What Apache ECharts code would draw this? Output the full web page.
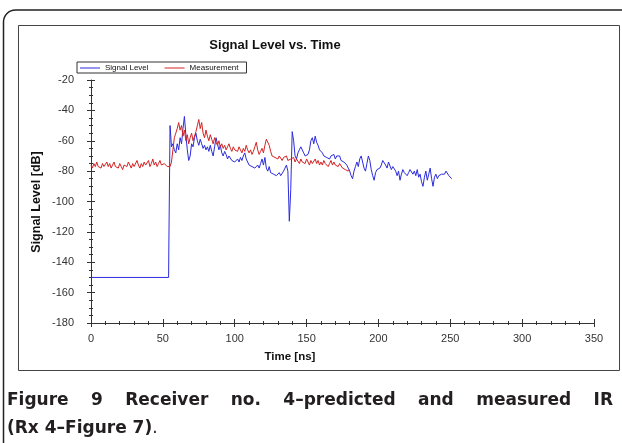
<!DOCTYPE html>
<html>
<head>
<meta charset="utf-8">
<script src="https://cdn.jsdelivr.net/npm/echarts@6/dist/echarts.min.js"></script>
<style>html,body{margin:0;padding:0;background:#fff;}#c{width:622px;height:443px;}</style>
</head>
<body>
<div id="c"></div>
<script>
// ---- data ----
const chartTitle = 'Signal Level vs. Time';
const seriesNames = ['Signal Level', 'Measurement'];
const xTickValues = [0, 50, 100, 150, 200, 250, 300, 350];
const yTickValues = [-180, -160, -140, -120, -100, -80, -60, -40, -20];
const xAxisTitle = 'Time [ns]';
const yAxisTitle = 'Signal Level [dB]';
const captionLine1 = [['Figure', 'bold'], ['9', 'bold'], ['Receiver', 'bold'], ['no.', 'bold'], ['4\u2013predicted', 'bold'], ['and', 'bold'], ['measured', 'bold'], ['IR', 'bold']];
const captionLine2 = [['(Rx 4\u2013Figure 7)', 'bold'], ['.', 'normal']];

// Measurement: one sample per ns starting at t = 0
const measurementStart = 0;
const measurementLevels = [
-76,-78,-75,-77,-74,-77,-76,-78,-75,-77,
-76,-74,-77,-75,-78,-76,-74,-77,-76,-78,
-75,-77,-79,-76,-75,-77,-74,-76,-78,-75,
-77,-76,-73,-76,-78,-75,-77,-74,-76,-75,
-73,-77,-75,-72,-76,-74,-77,-75,-73,-76,
-77,-75,-76,-77,-76,-77,-74,-66,-58,-55,
-52,-48,-53,-50,-57,-53,-60,-56,-62,-58,
-55,-60,-57,-54,-50,-46,-52,-48,-55,-58,
-53,-57,-60,-56,-59,-62,-58,-61,-63,-60,
-64,-62,-65,-63,-66,-64,-62,-65,-67,-64,
-66,-65,-67,-64,-66,-68,-65,-67,-63,-66,
-68,-66,-69,-67,-64,-61,-66,-69,-67,-65,
-68,-63,-59,-58,-63,-67,-70,-69,-71,-70,
-72,-70,-71,-73,-71,-72,-70,-73,-74,-72,
-73,-71,-74,-72,-73,-75,-72,-74,-73,-75,
-72,-74,-76,-73,-75,-74,-72,-75,-73,-76,
-74,-76,-73,-75,-74,-77,-75,-73,-76,-74,
-76,-75,-77,-75,-76,-78,-77,-79,-78,-80,
-79
];

// Signal level (prediction): leading step, then one sample per ns from t = 55
const signalLeadTimes = [0, 54, 54.2, 54.6];
const signalLeadLevels = [-150, -150, -126, -126];
const signalStart = 55;
const signalLevels = [
-50,-64,-62,-66,-68,-62,-66,-58,-62,-52,
-44,-56,-66,-73,-70,-62,-64,-58,-55,-60,
-63,-59,-62,-65,-63,-66,-64,-67,-63,-67,
-70,-64,-58,-62,-66,-63,-68,-70,-67,-69,
-72,-70,-71,-73,-72,-74,-75,-72,-74,-71,
-73,-70,-68,-72,-74,-76,-75,-77,-76,-78,
-77,-76,-78,-75,-72,-76,-71,-78,-80,-77,
-81,-80,-82,-81,-83,-82,-81,-83,-82,-80,
-78,-76,-80,-113,-92,-54,-60,-70,-72,-68,
-66,-64,-65,-68,-70,-71,-69,-66,-60,-58,
-62,-57,-61,-63,-66,-65,-68,-70,-69,-71,
-70,-72,-70,-71,-69,-72,-70,-71,-70,-73,
-72,-74,-73,-76,-78,-80,-83,-85,-80,-77,
-74,-77,-72,-70,-74,-78,-80,-75,-70,-73,
-79,-83,-86,-81,-79,-80,-78,-76,-73,-72,
-76,-78,-74,-75,-79,-77,-76,-80,-83,-80,
-86,-82,-79,-81,-80,-83,-81,-79,-78,-82,
-80,-83,-79,-84,-82,-87,-90,-84,-80,-86,
-82,-78,-85,-90,-84,-82,-85,-83,-84,-82,
-81,-82,-80,-81,-83,-84,-85
];

// ---- build series data ----
const signalData = signalLeadTimes.map((t, i) => [t, signalLeadLevels[i]])
  .concat(signalLevels.map((v, i) => [signalStart + i, v]));
const measurementData = measurementLevels.map((v, i) => [measurementStart + i, v]);

const chart = echarts.init(document.getElementById('c'), null, {renderer: 'canvas'});

// caption justification helper (measures words, spreads them between left and right)
const mctx = document.createElement('canvas').getContext('2d');
const capFamily = '"DejaVu Sans", sans-serif';
const capSize = 17;
function capFont(w) { return w + ' ' + capSize + 'px ' + capFamily; }
function lineElems(words, y, left, right, justify) {
  const widths = words.map(w => { mctx.font = capFont(w[1]); return mctx.measureText(w[0]).width; });
  const total = widths.reduce((a, b) => a + b, 0);
  const gap = justify ? (right - left - total) / (words.length - 1) : 0;
  let x = left;
  return words.map((w, i) => {
    const el = {type: 'text', x: x, y: y, style: {text: w[0], font: capFont(w[1]), fill: '#231f20', align: 'left', verticalAlign: 'middle'}};
    x += widths[i] + gap;
    return el;
  });
}

const axisColor = '#333';
const labelStyle = {color: '#333', fontSize: 11, fontFamily: 'Liberation Sans, Arial, sans-serif'};

function xAx(main) {
  return {
    type: 'value', min: xTickValues[0], max: xTickValues[xTickValues.length - 1],
    interval: xTickValues[1] - xTickValues[0], position: 'bottom',
    axisLine: {show: main, onZero: false, lineStyle: {color: axisColor, width: 1}},
    axisTick: {show: true, inside: !main, length: 4, lineStyle: {color: axisColor}},
    minorTick: {show: true, splitNumber: 5, length: 2, lineStyle: {color: axisColor}},
    axisLabel: {show: main, margin: 10, ...labelStyle},
    splitLine: {show: false}
  };
}
function yAx(main) {
  return {
    type: 'value', min: yTickValues[0], max: yTickValues[yTickValues.length - 1],
    interval: yTickValues[1] - yTickValues[0], position: 'left',
    axisLine: {show: main, onZero: false, lineStyle: {color: axisColor, width: 1}},
    axisTick: {show: true, inside: !main, length: 4, lineStyle: {color: axisColor}},
    minorTick: {show: true, splitNumber: 4, length: 2, lineStyle: {color: axisColor}},
    axisLabel: {show: main, margin: 17, ...labelStyle},
    splitLine: {show: false}
  };
}

const option = {
  animation: false,
  backgroundColor: '#fff',
  title: {
    text: chartTitle, left: 270, top: 34, textAlign: 'center',
    textStyle: {fontSize: 13, fontWeight: 'bold', color: '#111', fontFamily: 'Liberation Sans, Arial, sans-serif'}
  },
  legend: {
    data: seriesNames, left: 77, top: 62, orient: 'horizontal',
    borderColor: '#333', borderWidth: 1, padding: [2, 8, 1, 3], itemGap: 16,
    itemWidth: 20, itemHeight: 1, icon: 'rect',
    textStyle: {fontSize: 8, color: '#111', fontFamily: 'Liberation Sans, Arial, sans-serif'}
  },
  grid: {left: 91, right: 28, top: 80, bottom: 120, containLabel: false},
  xAxis: [xAx(true), xAx(false)],
  yAxis: [yAx(true), yAx(false)],
  series: [
    {name: seriesNames[0], type: 'line', data: signalData, showSymbol: false, symbol: 'none',
     lineStyle: {color: '#2b2bdc', width: 1}, itemStyle: {color: '#2b2bdc'}, z: 2},
    {name: seriesNames[1], type: 'line', data: measurementData, showSymbol: false, symbol: 'none',
     lineStyle: {color: '#d42222', width: 1}, itemStyle: {color: '#d42222'}, z: 3}
  ],
  graphic: [
    {type: 'rect', shape: {x: 3.5, y: 10, width: 660, height: 480, r: 12}, style: {fill: null, stroke: '#222', lineWidth: 1.5}, silent: true, z: -10},
    {type: 'rect', shape: {x: 18.5, y: 25.5, width: 601, height: 345}, style: {fill: null, stroke: '#444', lineWidth: 1}, silent: true, z: -10},
    {type: 'text', x: 290, y: 357, style: {text: xAxisTitle, font: 'bold 11.5px "Liberation Sans", Arial, sans-serif', fill: '#111', align: 'center', verticalAlign: 'middle'}},
    {type: 'text', x: 37, y: 202, rotation: Math.PI / 2, style: {text: yAxisTitle, font: 'bold 12.5px "Liberation Sans", Arial, sans-serif', fill: '#111', align: 'center', verticalAlign: 'middle'}}
  ].concat(lineElems(captionLine1, 401, 7, 613, true)).concat(lineElems(captionLine2, 429, 7, 613, false))
};
chart.setOption(option);
</script>
</body>
</html>
